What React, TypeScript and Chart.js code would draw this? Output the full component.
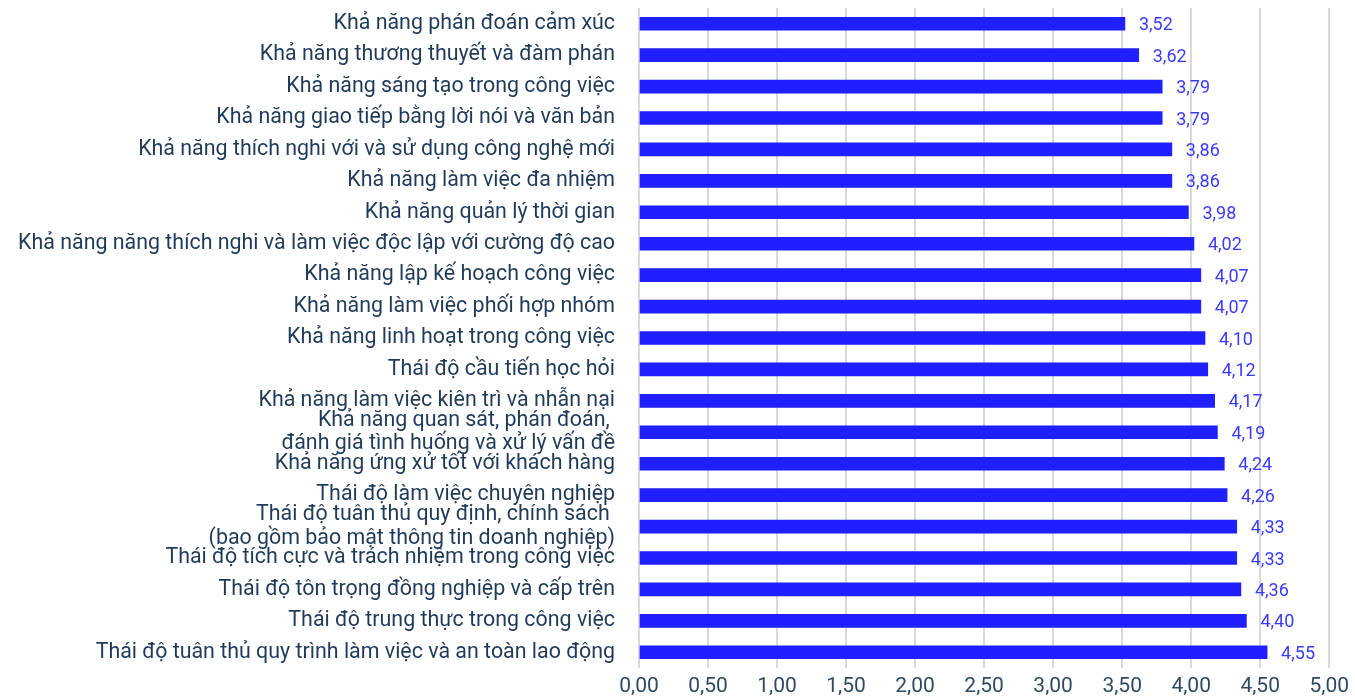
import React, { useEffect, useRef } from "react";
import { Chart, registerables } from "chart.js";

Chart.register(...registerables);

const categories: (string | string[])[] = [
  "Khả năng phán đoán cảm xúc",
  "Khả năng thương thuyết và đàm phán",
  "Khả năng sáng tạo trong công việc",
  "Khả năng giao tiếp bằng lời nói và văn bản",
  "Khả năng thích nghi với và sử dụng công nghệ mới",
  "Khả năng làm việc đa nhiệm",
  "Khả năng quản lý thời gian",
  "Khả năng năng thích nghi và làm việc độc lập với cường độ cao",
  "Khả năng lập kế hoạch công việc",
  "Khả năng làm việc phối hợp nhóm",
  "Khả năng linh hoạt trong công việc",
  "Thái độ cầu tiến học hỏi",
  "Khả năng làm việc kiên trì và nhẫn nại",
  ["Khả năng quan sát, phán đoán, ", "đánh giá tình huống và xử lý vấn đề"],
  "Khả năng ứng xử tốt với khách hàng",
  "Thái độ làm việc chuyên nghiệp",
  ["Thái độ tuân thủ quy định, chính sách ", "(bao gồm bảo mật thông tin doanh nghiệp)"],
  "Thái độ tích cực và trách nhiệm trong công việc",
  "Thái độ tôn trọng đồng nghiệp và cấp trên",
  "Thái độ trung thực trong công việc",
  "Thái độ tuân thủ quy trình làm việc và an toàn lao động",
];

const scores: number[] = [
  3.52, 3.62, 3.79, 3.79, 3.86, 3.86, 3.98, 4.02, 4.07, 4.07, 4.1, 4.12, 4.17,
  4.19, 4.24, 4.26, 4.33, 4.33, 4.36, 4.4, 4.55,
];

const fmt = (v: number) => v.toFixed(2).replace(".", ",");

const FONT = "Roboto, 'Noto Sans', sans-serif";

const valueLabels = {
  id: "valueLabels",
  afterDatasetsDraw(chart: any) {
    const ctx = chart.ctx;
    const meta = chart.getDatasetMeta(0);
    ctx.save();
    ctx.font = `18px ${FONT}`;
    ctx.fillStyle = "#3a3aff";
    ctx.textAlign = "left";
    ctx.textBaseline = "middle";
    meta.data.forEach((bar: any, i: number) => {
      ctx.fillText(fmt(scores[i]), bar.x + 14, bar.y + 2);
    });
    ctx.restore();
  },
};

export default function App() {
  const ref = useRef<HTMLCanvasElement>(null);
  useEffect(() => {
    document.body.style.margin = "0";
    const chart = new Chart(ref.current!, {
      type: "bar",
      data: {
        labels: categories,
        datasets: [
          {
            data: scores,
            backgroundColor: "#1f1fff",
            barThickness: 13,
          },
        ],
      },
      options: {
        indexAxis: "y",
        animation: false,
        responsive: false,
        maintainAspectRatio: false,
        layout: { padding: { top: 8, right: 4, left: 0, bottom: 0 } },
        plugins: { legend: { display: false }, tooltip: { enabled: false } },
        scales: {
          x: {
            min: 0,
            max: 5,
            afterFit: (scale: any) => {
              scale.height = 31;
            },
            ticks: {
              stepSize: 0.5,
              callback: (v: any) => fmt(Number(v)),
              color: "#2e4a66",
              font: { family: FONT, size: 21 },
              padding: 6,
            },
            grid: { color: "#d9d9d9", lineWidth: 2, drawTicks: false },
            border: { display: false },
          },
          y: {
            afterFit: (scale: any) => {
              scale.width = 639;
              scale.paddingTop = 0;
              scale.paddingBottom = 0;
            },
            ticks: {
              color: "#1e3a5c",
              font: { family: FONT, size: 21.4, lineHeight: 1.1 },
              padding: 24,
              autoSkip: false,
            },
            grid: { display: false, drawTicks: false },
            border: { display: false },
          },
        },
      },
      plugins: [valueLabels],
    });
    return () => chart.destroy();
  }, []);
  return <canvas ref={ref} width={1355} height={699} style={{ display: "block" }} />;
}
